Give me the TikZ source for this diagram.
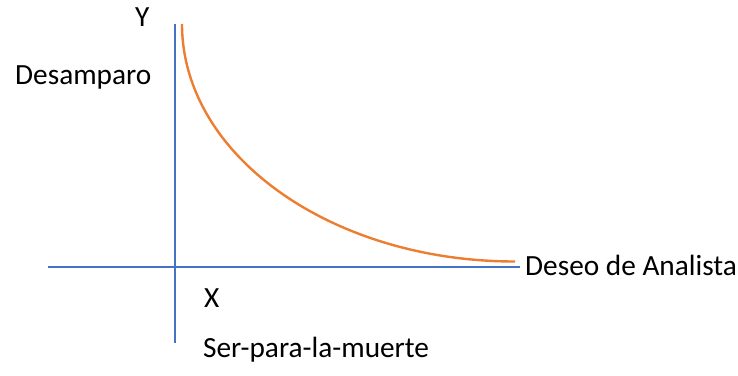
\documentclass[tikz,border=0pt]{standalone}
\usepackage{fontspec}
\setmainfont{Carlito}
\definecolor{axisblue}{HTML}{4472C4}
\definecolor{curveorange}{HTML}{ED7D31}
\begin{document}
\begin{tikzpicture}[x=1pt,y=-1pt,
  axis/.style={draw=axisblue,line width=2.4pt},
  curve/.style={draw=curveorange,line width=2.4pt},
  lbl/.style={inner sep=0pt,anchor=base west,font=\fontsize{29.3}{32}\selectfont,text=black}]
\useasboundingbox (0,0) rectangle (738,375);
\coordinate (vtop) at (175,24);
\coordinate (vbot) at (175,343);
\coordinate (hleft) at (48,267);
\coordinate (hright) at (520,267);
\coordinate (cstart) at (182,24);
\draw[axis] (vtop) -- (vbot);
\draw[axis] (hleft) -- (hright);
\draw[curve] (cstart) arc[start angle=180,end angle=270,x radius=333pt,y radius=237.5pt] coordinate (cend);
\node[lbl] (ylbl) at (135,26) {Y};
\node[lbl] (desamparo) at (15,84) {Desamparo};
\node[lbl] (xlbl) at (204,307) {X};
\node[lbl] (ser) at (203,357) {Ser-para-la-muerte};
\node[lbl] (deseo) at (525,275) {Deseo de Analista};
\end{tikzpicture}
\end{document}
